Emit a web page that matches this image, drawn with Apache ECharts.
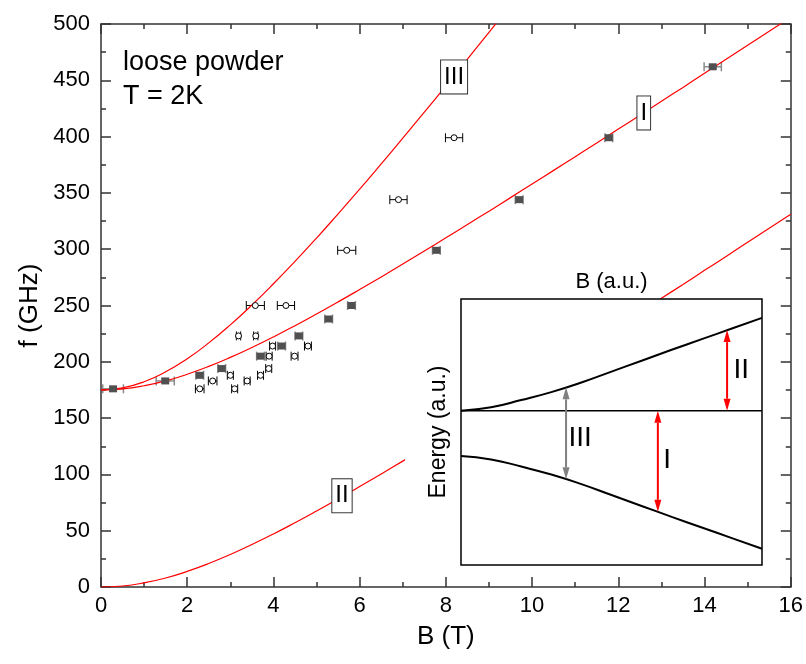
<!DOCTYPE html>
<html>
<head>
<meta charset="utf-8">
<script src="https://cdn.jsdelivr.net/npm/echarts@6/dist/echarts.min.js"></script>
<style>
  html, body { margin: 0; padding: 0; background: #fff; }
  #chart { width: 806px; height: 664px; }
</style>
</head>
<body>
<div id="chart"></div>
<script>
// field grid for the three calculated transition lines (T)
const fieldT = [0, 0.5, 1, 1.5, 2, 2.5, 3, 3.5, 4, 4.5, 5, 5.5, 6, 6.5, 7, 7.5, 8, 8.5,
  9, 9.5, 10, 10.5, 11, 11.5, 12, 12.5, 13, 13.5, 14, 14.5, 15, 15.5, 16]
const lineI = [175, 175.9, 178.7, 183.0, 188.9, 195.9, 203.9, 212.7, 222.1, 232.1, 242.5,
  253.2, 264.2, 275.4, 286.8, 298.4, 310.1, 321.9, 333.8, 345.8, 357.9, 370.0, 382.2,
  394.4, 406.7, 419.0, 431.4, 443.7, 456.2, 468.6, 481.1, 493.5, 506.0]
const lineII = [0, 0.9, 3.7, 8.0, 13.9, 20.9, 28.9, 37.7, 47.1, 57.1, 67.5, 78.2, 89.2,
  100.4, 111.8, 123.4, 135.1, 146.9, 158.8, 170.8, 182.9, 195.0, 207.2, 219.4, 231.7,
  244.0, 256.4, 268.7, 281.2, 293.6, 306.1, 318.5, 331.0]
const lineIII = [175, 176.9, 182.3, 191.1, 202.7, 216.8, 232.8, 250.4, 269.3, 289.2,
  309.9, 331.4, 353.3, 375.8, 398.6, 421.7, 445.1, 468.8, 492.6, 516.6]

// measured resonances, filled squares
const filledB = [0.28, 1.49, 2.29, 2.80, 3.70, 4.19, 4.59, 5.28, 5.81, 7.78, 9.70, 11.78, 14.19]
const filledF = [176, 183, 188, 194, 205, 214, 223, 238, 250, 299, 344, 399, 462]
const filledErr = [0.24, 0.21, 0.09, 0.09, 0.09, 0.09, 0.09, 0.09, 0.09, 0.09, 0.09, 0.09, 0.2]

// measured resonances, open circles
const openB = [2.29, 2.59, 3.00, 3.10, 3.39, 3.70, 3.89, 3.90, 3.98, 4.49, 4.80, 3.19, 3.59,
  3.58, 4.29, 5.70, 6.90, 8.19]
const openF = [176, 183, 188, 176, 183, 188, 194, 205, 214, 205, 214, 223, 223,
  250, 250, 299, 344, 399]
const openErr = [0.1, 0.1, 0.07, 0.07, 0.07, 0.07, 0.07, 0.07, 0.07, 0.08, 0.08, 0.05, 0.05,
  0.21, 0.2, 0.21, 0.2, 0.2]

// boxed line tags
const tagNames = ['III', 'I', 'II']
const tagB = [8.19, 12.59, 5.59]
const tagF = [453, 421, 81]

// inset: energy levels vs field (arbitrary units)
const insetB = [0, 1, 2, 3, 4, 5, 6, 7, 8, 9, 10]
const upperE = [0, 0.13, 0.40, 0.70, 1.06, 1.47, 1.88, 2.29, 2.69, 3.09, 3.49]
const lowerE = [-1.70, -1.83, -2.10, -2.40, -2.76, -3.17, -3.58, -3.99, -4.39, -4.79, -5.19]
const arrowB = [3.49, 6.54, 8.84]
const arrowFrom = [0.88, 0, 3.03]
const arrowTo = [-2.58, -3.80, 0]
const insetTagNames = ['III', 'I', 'II']
const insetTagB = [3.96, 6.85, 9.31]
const insetTagE = [-1.03, -1.85, 1.53]

const FONT = '"Liberation Sans", Arial, Helvetica, sans-serif'
const AXIS_COLOR = '#333'
const ARROW_COLORS = ['#808080', '#ff0000', '#ff0000']

const zip = (xs, ys) => xs.map((x, i) => [x, ys[i]])

function errBar(color, width, cap) {
  return function (params, api) {
    const b = api.value(0)
    const f = api.value(1)
    const e = api.value(2)
    const lo = api.coord([b - e, f])
    const hi = api.coord([b + e, f])
    const style = { stroke: color, lineWidth: width }
    return {
      type: 'group',
      children: [
        { type: 'line', shape: { x1: lo[0], y1: lo[1], x2: hi[0], y2: hi[1] }, style },
        { type: 'line', shape: { x1: lo[0], y1: lo[1] - cap, x2: lo[0], y2: lo[1] + cap }, style },
        { type: 'line', shape: { x1: hi[0], y1: hi[1] - cap, x2: hi[0], y2: hi[1] + cap }, style }
      ]
    }
  }
}

function doubleArrow(params, api) {
  const p1 = api.coord([api.value(0), api.value(1)])
  const p2 = api.coord([api.value(0), api.value(2)])
  const color = ARROW_COLORS[params.dataIndex]
  const len = 12
  const half = 3.5
  const dir = p2[1] > p1[1] ? 1 : -1
  return {
    type: 'group',
    children: [
      {
        type: 'line',
        shape: { x1: p1[0], y1: p1[1] + dir * len, x2: p2[0], y2: p2[1] - dir * len },
        style: { stroke: color, lineWidth: 2 }
      },
      {
        type: 'polygon',
        shape: { points: [[p1[0], p1[1]], [p1[0] - half, p1[1] + dir * len], [p1[0] + half, p1[1] + dir * len]] },
        style: { fill: color }
      },
      {
        type: 'polygon',
        shape: { points: [[p2[0], p2[1]], [p2[0] - half, p2[1] - dir * len], [p2[0] + half, p2[1] - dir * len]] },
        style: { fill: color }
      }
    ]
  }
}

const axisLineStyle = { color: AXIS_COLOR, width: 1.5 }

function mainAxis(extra) {
  return Object.assign({
    type: 'value',
    gridIndex: 0,
    axisLine: { show: true, onZero: false, lineStyle: axisLineStyle },
    axisTick: { show: true, inside: true, length: 10, lineStyle: axisLineStyle },
    minorTick: { show: true, splitNumber: 2, length: 5, lineStyle: axisLineStyle },
    splitLine: { show: false },
    axisLabel: { show: false }
  }, extra)
}

const insetAxisHidden = {
  axisLine: { show: false },
  axisTick: { show: false },
  axisLabel: { show: false },
  splitLine: { show: false }
}

const plainLabel = { color: '#000', textBorderWidth: 0, textBorderColor: 'transparent' }

const chart = echarts.init(document.getElementById('chart'))

chart.setOption({
  animation: false,
  backgroundColor: '#fff',
  textStyle: { fontFamily: FONT },
  grid: [
    { left: 101, top: 24, right: 14, bottom: 77 },
    {
      left: 461, top: 299, width: 301, height: 266, z: 10,
      show: true, backgroundColor: '#fff', borderColor: '#000', borderWidth: 1.5
    }
  ],
  xAxis: [
    mainAxis({
      min: 0, max: 16, interval: 2, position: 'bottom',
      axisLabel: { show: true, fontSize: 22, color: '#000', margin: 8 },
      name: 'B (T)', nameLocation: 'middle', nameGap: 37,
      nameTextStyle: { fontSize: 26, color: '#000' }
    }),
    mainAxis({ min: 0, max: 16, interval: 2, position: 'top' }),
    Object.assign({
      type: 'value', gridIndex: 1, min: 0, max: 10, position: 'top',
      name: 'B (a.u.)', nameLocation: 'middle', nameGap: 6, z: 12,
      nameTextStyle: { fontSize: 22, color: '#000' }
    }, insetAxisHidden)
  ],
  yAxis: [
    mainAxis({
      min: 0, max: 500, interval: 50, position: 'left',
      axisLabel: { show: true, fontSize: 22, color: '#000', margin: 11 },
      name: 'f (GHz)', nameLocation: 'middle', nameGap: 55,
      nameTextStyle: { fontSize: 26, color: '#000' }
    }),
    mainAxis({ min: 0, max: 500, interval: 50, position: 'right' }),
    Object.assign({
      type: 'value', gridIndex: 1, min: -5.8, max: 4.2, position: 'left',
      name: 'Energy (a.u.)', nameLocation: 'middle', nameGap: 11, z: 12,
      nameTextStyle: { fontSize: 23, color: '#000' }
    }, insetAxisHidden)
  ],
  graphic: [
    {
      type: 'rect', z: 9, silent: true,
      shape: { x: 405, y: 299, width: 56, height: 266 },
      style: { fill: '#fff' }
    },
    {
      type: 'text', left: 123, top: 46, z: 20,
      style: { text: 'loose powder\nT = 2K', font: '27px ' + FONT, lineHeight: 34, fill: '#000' }
    }
  ],
  series: [
    {
      type: 'line', xAxisIndex: 0, yAxisIndex: 0, data: zip(fieldT, lineI),
      smooth: true, showSymbol: false, clip: true,
      lineStyle: { color: '#ff0000', width: 1.2 }
    },
    {
      type: 'line', xAxisIndex: 0, yAxisIndex: 0, data: zip(fieldT, lineII),
      smooth: true, showSymbol: false, clip: true,
      lineStyle: { color: '#ff0000', width: 1.2 }
    },
    {
      type: 'line', xAxisIndex: 0, yAxisIndex: 0, data: zip(fieldT.slice(0, lineIII.length), lineIII),
      smooth: true, showSymbol: false, clip: true,
      lineStyle: { color: '#ff0000', width: 1.2 }
    },
    {
      type: 'custom', xAxisIndex: 0, yAxisIndex: 0, z: 3,
      renderItem: errBar('#8a8a8a', 1.5, 4.5),
      encode: { x: 0, y: 1 },
      data: filledB.map((b, i) => [b, filledF[i], filledErr[i]])
    },
    {
      type: 'custom', xAxisIndex: 0, yAxisIndex: 0, z: 3,
      renderItem: errBar('#000', 1, 4.5),
      encode: { x: 0, y: 1 },
      data: openB.map((b, i) => [b, openF[i], openErr[i]])
    },
    {
      type: 'scatter', xAxisIndex: 0, yAxisIndex: 0, z: 4,
      symbol: 'rect', symbolSize: [8, 7],
      itemStyle: { color: '#505050', opacity: 1 },
      data: zip(filledB, filledF)
    },
    {
      type: 'scatter', xAxisIndex: 0, yAxisIndex: 0, z: 4,
      symbol: 'circle', symbolSize: 6,
      itemStyle: { color: '#fff', borderColor: '#000', borderWidth: 1, opacity: 1 },
      data: zip(openB, openF)
    },
    {
      type: 'scatter', xAxisIndex: 0, yAxisIndex: 0, z: 5,
      symbolSize: 0,
      itemStyle: { opacity: 1 },
      label: Object.assign({
        show: true, position: 'inside', fontSize: 24,
        formatter: p => tagNames[p.dataIndex],
        backgroundColor: '#fff', borderColor: '#333', borderWidth: 1,
        padding: [5, 3, 4, 3]
      }, plainLabel),
      data: zip(tagB, tagF)
    },
    // inset
    {
      type: 'line', xAxisIndex: 2, yAxisIndex: 2, z: 12,
      data: [[0, 0], [10, 0]], showSymbol: false,
      lineStyle: { color: '#000', width: 1.5 }
    },
    {
      type: 'line', xAxisIndex: 2, yAxisIndex: 2, z: 12,
      data: zip(insetB, upperE), smooth: true, showSymbol: false,
      lineStyle: { color: '#000', width: 2 }
    },
    {
      type: 'line', xAxisIndex: 2, yAxisIndex: 2, z: 12,
      data: zip(insetB, lowerE), smooth: true, showSymbol: false,
      lineStyle: { color: '#000', width: 2 }
    },
    {
      type: 'custom', xAxisIndex: 2, yAxisIndex: 2, z: 13,
      renderItem: doubleArrow,
      encode: { x: 0, y: [1, 2] },
      data: arrowB.map((b, i) => [b, arrowFrom[i], arrowTo[i]])
    },
    {
      type: 'scatter', xAxisIndex: 2, yAxisIndex: 2, z: 13,
      symbolSize: 0,
      itemStyle: { opacity: 1 },
      label: Object.assign({
        show: true, position: 'inside', fontSize: 28,
        formatter: p => insetTagNames[p.dataIndex]
      }, plainLabel),
      data: zip(insetTagB, insetTagE)
    }
  ]
})
</script>
</body>
</html>
